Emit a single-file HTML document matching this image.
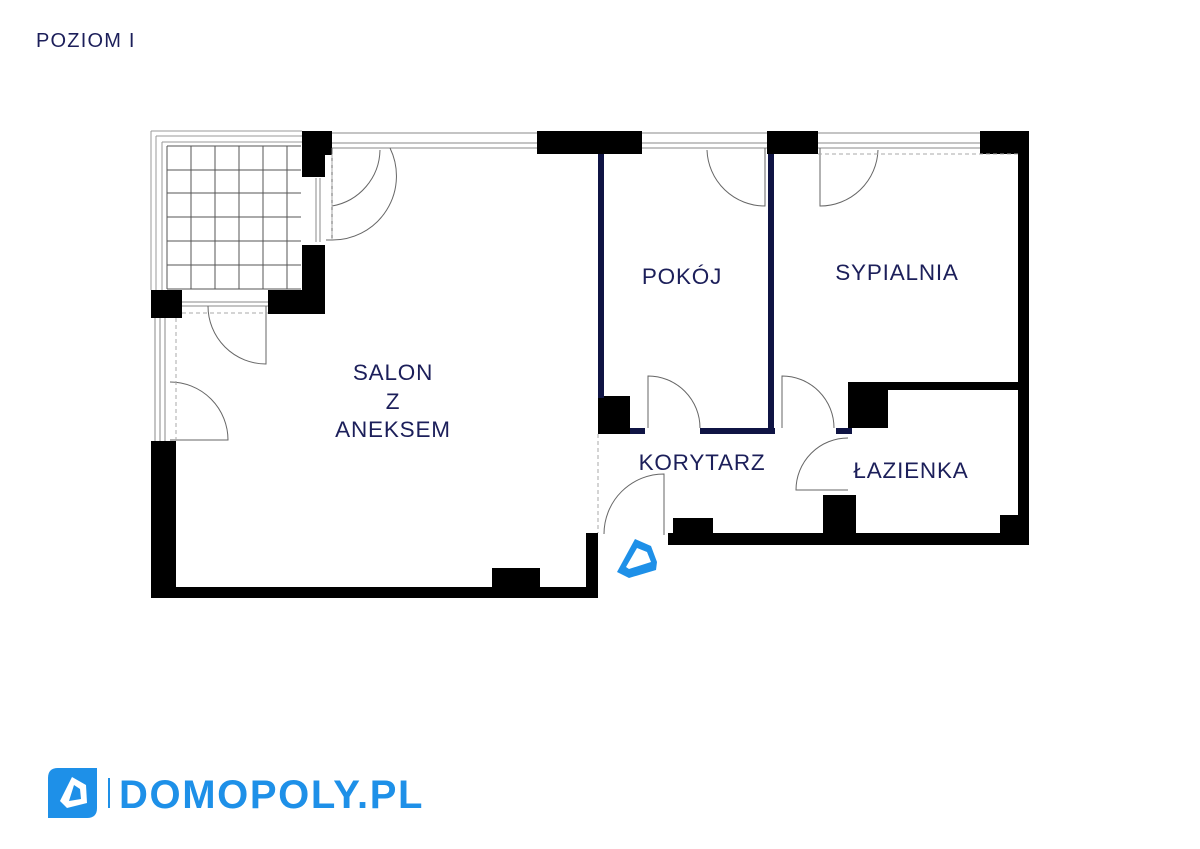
<!DOCTYPE html>
<html><head><meta charset="utf-8"><style>
html,body{margin:0;padding:0;background:#fff}
svg{display:block}
text{font-family:"Liberation Sans",sans-serif}
</style></head><body>
<svg width="1200" height="849" viewBox="0 0 1200 849" xmlns="http://www.w3.org/2000/svg">
<text x="36" y="47" font-size="20" fill="#1c1f5a" letter-spacing="1.2">POZIOM I</text>

<!-- balcony -->
<g fill="none" stroke="#999" stroke-width="1">
<path d="M151 131 H302 M151 131 V290 M156 136 H302 M156 136 V290 M162 142 V290 M162 142 H302"/>
</g>
<g stroke="#555" stroke-width="1">
<path d="M167 146 H301 M167 170 H301 M167 193 H301 M167 217 H301 M167 241 H301 M167 265 H301 M167 289 H301"/>
<path d="M167 146 V289 M191 146 V289 M215 146 V289 M239 146 V289 M263 146 V289 M287 146 V289"/>
</g>

<!-- windows -->
<g fill="none" stroke="#888" stroke-width="1">
<path d="M331 143 H537 M331 148 H537 M331 133 H537"/>
<path d="M642 143 H767 M642 148 H767 M642 133 H767"/>
<path d="M818 143 H980 M818 148 H980 M818 133 H980"/>
<path d="M155 318 V441 M160 318 V441 M165 318 V441"/>
<path d="M182 302 H268 M182 306 H268"/>
<path d="M316 178 V242 M320 178 V242"/>
</g>

<!-- black walls -->
<g fill="#000">
<rect x="302" y="131" width="30" height="24"/>
<rect x="302" y="131" width="23" height="46"/>
<rect x="302" y="245" width="23" height="69"/>
<rect x="268" y="290" width="57" height="24"/>
<rect x="151" y="290" width="31" height="28"/>
<rect x="537" y="131" width="105" height="23"/>
<rect x="767" y="131" width="51" height="23"/>
<rect x="980" y="131" width="49" height="23"/>
<rect x="1018" y="131" width="11" height="414"/>
<rect x="668" y="533" width="361" height="12"/>
<rect x="151" y="441" width="25" height="157"/>
<rect x="151" y="587" width="447" height="11"/>
<rect x="492" y="568" width="48" height="20"/>
<rect x="586" y="533" width="12" height="65"/>
<rect x="598" y="396" width="32" height="38"/>
<rect x="848" y="382" width="40" height="46"/>
<rect x="848" y="382" width="170" height="8"/>
<rect x="823" y="495" width="33" height="50"/>
<rect x="1000" y="515" width="18" height="30"/>
<rect x="673" y="518" width="40" height="27"/>
</g>

<!-- navy partitions -->
<g fill="#0f1444">
<rect x="598" y="154" width="6" height="244"/>
<rect x="768" y="154" width="6" height="280"/>
<rect x="630" y="428" width="15" height="6"/>
<rect x="700" y="428" width="75" height="6"/>
<rect x="836" y="428" width="16" height="6"/>
</g>

<!-- doors -->
<g fill="none" stroke="#666" stroke-width="1">
<path d="M332 148 V206 A58 58 0 0 0 380 150"/>
<path d="M326 240 H332 V178"/>
<path d="M332 240 A64 64 0 0 0 390 148" />
<path d="M208 306 A58 58 0 0 0 266 364 V306"/>
<path d="M170 382 A58 58 0 0 1 228 440 H170"/>
<path d="M765 148 V206 A58 58 0 0 1 707 150"/>
<path d="M820 148 V206 A58 58 0 0 0 878 150"/>
<path d="M648 428 V376 A52 52 0 0 1 700 428"/>
<path d="M782 428 V376 A52 52 0 0 1 834 428"/>
<path d="M848 438 A52 52 0 0 0 796 490 H848"/>
<path d="M664 535 V474 A60 60 0 0 0 604 534"/>
</g>
<g fill="none" stroke="#aaa" stroke-width="1" stroke-dasharray="4,3">
<path d="M598 434 V533"/>
<path d="M176 318 V441"/>
<path d="M182 313 H268"/>
<path d="M818 154 H1018"/>
<path d="M332 154 V240"/>
</g>

<!-- entrance marker -->
<path d="M635 539 L651 546 L657 562 L656 570 L629 578 L617 572 Z" fill="#1e90e8"/>
<path d="M637 548 L647 552 L651 562 L629 569 L626 567 Z" fill="#fff"/>

<!-- labels -->
<g font-size="22.5" fill="#1c1f5a" text-anchor="middle" letter-spacing="0.8">
<text x="393" y="380">SALON</text>
<text x="393" y="409">Z</text>
<text x="393" y="437">ANEKSEM</text>
<text x="682" y="284">POKÓJ</text>
<text x="897" y="280">SYPIALNIA</text>
<text x="702" y="470">KORYTARZ</text>
<text x="911" y="478">ŁAZIENKA</text>
</g>

<!-- logo -->
<path d="M58 768 H97 V808 Q97 818 87 818 H48 V778 Q48 768 58 768 Z" fill="#1e90e8"/>
<path d="M72 777 L86 785 L87 803 L67 808 L60 801 Z" fill="#fff"/>
<path d="M74 785 L80 789 L81 799 L69 801 Z" fill="#1e90e8"/>
<rect x="108" y="778" width="2" height="30" fill="#1e90e8"/>
<text x="119" y="808" font-size="40" font-weight="bold" fill="#1e90e8" letter-spacing="1.6">DOMOPOLY.PL</text>
</svg>
</body></html>
